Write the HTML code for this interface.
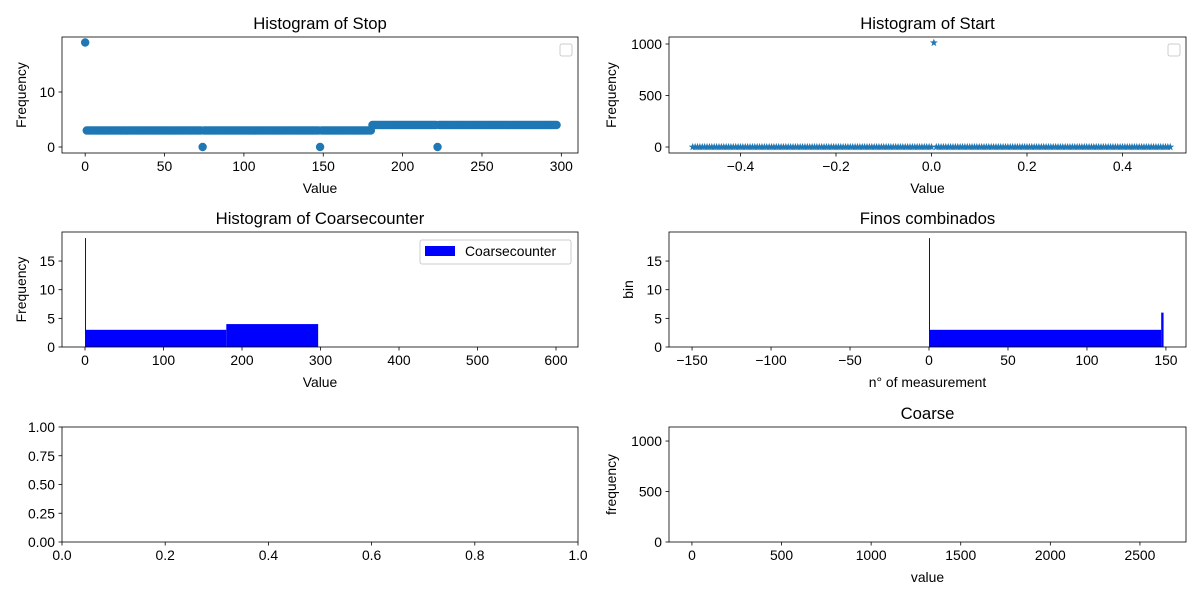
<!DOCTYPE html>
<html><head><meta charset="utf-8"><style>
html,body{margin:0;padding:0;background:#fff;}
svg{display:block;font-family:"Liberation Sans","DejaVu Sans",sans-serif;}
</style></head><body>
<svg id="fig" width="1200" height="600" viewBox="0 0 1200 600" xmlns="http://www.w3.org/2000/svg"></svg>
<script>
// ---- data ----
const stopCounts = [
19,3,3,3,3,3,3,3,3,3,
3,3,3,3,3,3,3,3,3,3,
3,3,3,3,3,3,3,3,3,3,
3,3,3,3,3,3,3,3,3,3,
3,3,3,3,3,3,3,3,3,3,
3,3,3,3,3,3,3,3,3,3,
3,3,3,3,3,3,3,3,3,3,
3,3,3,3,0,3,3,3,3,3,
3,3,3,3,3,3,3,3,3,3,
3,3,3,3,3,3,3,3,3,3,
3,3,3,3,3,3,3,3,3,3,
3,3,3,3,3,3,3,3,3,3,
3,3,3,3,3,3,3,3,3,3,
3,3,3,3,3,3,3,3,3,3,
3,3,3,3,3,3,3,3,0,3,
3,3,3,3,3,3,3,3,3,3,
3,3,3,3,3,3,3,3,3,3,
3,3,3,3,3,3,3,3,3,3,
3,4,4,4,4,4,4,4,4,4,
4,4,4,4,4,4,4,4,4,4,
4,4,4,4,4,4,4,4,4,4,
4,4,4,4,4,4,4,4,4,4,
4,4,0,4,4,4,4,4,4,4,
4,4,4,4,4,4,4,4,4,4,
4,4,4,4,4,4,4,4,4,4,
4,4,4,4,4,4,4,4,4,4,
4,4,4,4,4,4,4,4,4,4,
4,4,4,4,4,4,4,4,4,4,
4,4,4,4,4,4,4,4,4,4,
4,4,4,4,4,4,4,4];
const startCounts = [
0,0,0,0,0,0,0,0,0,0,0,0,0,0,0,0,0,0,0,0,
0,0,0,0,0,0,0,0,0,0,0,0,0,0,0,0,0,0,0,0,
0,0,0,0,0,0,0,0,0,0,0,0,0,0,0,0,0,0,0,0,
0,0,0,0,0,0,0,0,0,0,0,0,0,0,0,0,0,0,0,0,
0,0,0,0,0,0,0,0,0,0,0,0,0,0,0,0,0,0,0,0,
0,1012,
0,0,0,0,0,0,0,0,0,0,0,0,0,0,0,0,0,0,0,0,
0,0,0,0,0,0,0,0,0,0,0,0,0,0,0,0,0,0,0,0,
0,0,0,0,0,0,0,0,0,0,0,0,0,0,0,0,0,0,0,0,
0,0,0,0,0,0,0,0,0,0,0,0,0,0,0,0,0,0,0,0,
0,0,0,0,0,0,0,0,0,0,0,0,0,0,0,0,0,0,0];
const startMin = -0.5, startStep = 0.005;
const coarseEdges = [0,1,180,297];
const coarseCounts = [19,3,4];
const finosEdges = [0,0.6,147,148.5];
const finosCounts = [19,3,6];
const stopXTicks = [0,50,100,150,200,250,300];
const stopYTicks = [0,10];
const startXTicks = [-0.4,-0.2,0.0,0.2,0.4];
const startXLabels = ["\u22120.4","\u22120.2","0.0","0.2","0.4"];
const startYTicks = [0,500,1000];
const coarseXTicks = [0,100,200,300,400,500,600];
const histYTicks = [0,5,10,15];
const finosXTicks = [-150,-100,-50,0,50,100,150];
const finosXLabels = ["\u2212150","\u2212100","\u221250","0","50","100","150"];
const emptyXTicks = [0,0.2,0.4,0.6,0.8,1.0];
const emptyXLabels = ["0.0","0.2","0.4","0.6","0.8","1.0"];
const emptyYTicks = [0,0.25,0.5,0.75,1.0];
const emptyYLabels = ["0.00","0.25","0.50","0.75","1.00"];
const coarseXTicks2 = [0,500,1000,1500,2000,2500];
const coarseYTicks2 = [0,500,1000];

const NS = "http://www.w3.org/2000/svg";
const fig = document.getElementById('fig');
function mk(tag, attrs, parent, text){
  const e = document.createElementNS(NS, tag);
  for (const k in attrs) e.setAttribute(k, attrs[k]);
  if (text !== undefined) e.textContent = text;
  (parent||fig).appendChild(e);
  return e;
}
function makeAxes(o){
  const g = mk('g', {});
  
  
  const sx = v => o.l + (v - o.xmin) / (o.xmax - o.xmin) * o.w;
  const sy = v => o.t + o.h - (v - o.ymin) / (o.ymax - o.ymin) * o.h;
  const marks = mk('g', {}, g);
  
  
  return {g, marks, sx, sy, o};
}
function finishAxes(A){
  const o = A.o, g = A.g;
  const frame = mk('rect', {x:o.l, y:o.t, width:o.w, height:o.h, fill:'none', stroke:'#000', 'stroke-width':0.8}, g);
  
  
  const xa = mk('g', {}, g);
  
  
  o.xt.forEach((v,i) => {
    const x = A.sx(v);
    mk('line', {x1:x, x2:x, y1:o.t+o.h, y2:o.t+o.h+3.5, stroke:'#000', 'stroke-width':0.8}, xa);
    const t = mk('text', {x:x, y:o.t+o.h+18, 'font-size':13.9, 'text-anchor':'middle', fill:'#000'}, xa, o.xl ? o.xl[i] : String(v));
    
    
  });
  const ya = mk('g', {}, g);
  
  
  o.yt.forEach((v,i) => {
    const y = A.sy(v);
    mk('line', {x1:o.l-3.5, x2:o.l, y1:y, y2:y, stroke:'#000', 'stroke-width':0.8}, ya);
    const t = mk('text', {x:o.l-7, y:y+5, 'font-size':13.9, 'text-anchor':'end', fill:'#000'}, ya, o.yl ? o.yl[i] : String(v));
    
    
  });
  if (o.title){
    const t = mk('text', {x:o.l+o.w/2, y:o.t-8, 'font-size':16.7, 'text-anchor':'middle', fill:'#000'}, g, o.title);
    
    
  }
  if (o.xlabel){
    const t = mk('text', {x:o.l+o.w/2, y:o.t+o.h+40, 'font-size':13.9, 'text-anchor':'middle', fill:'#000'}, g, o.xlabel);
    
    
  }
  if (o.ylabel){
    const cx = o.ylx, cy = o.t+o.h/2;
    const t = mk('text', {x:cx, y:cy, 'font-size':13.9, 'text-anchor':'middle', fill:'#000', transform:'rotate(-90 '+cx+' '+cy+')'}, g, o.ylabel);
    
    
  }
}
function emptyLegend(A){
  const o = A.o;
  const r = mk('rect', {x:o.l+o.w-18, y:o.t+7, width:12, height:12, rx:2, fill:'#fff', stroke:'#ccc', 'stroke-width':1}, A.g);
  
  
}
function bars(A, edges, counts, name){
  counts.forEach((c,i) => {
    const x0 = A.sx(edges[i]), x1 = A.sx(edges[i+1]);
    const r = mk('rect', {x:x0, y:A.sy(c), width:Math.max(x1-x0,1), height:A.sy(0)-A.sy(c), fill:'#0000ff'}, A.marks);
    
    
  });
}

// 1. Histogram of Stop
const A1 = makeAxes({name:'stop-histogram', l:62, t:37, w:516, h:116, xmin:-14.6, xmax:310.5, ymin:-1.09, ymax:20, xt:stopXTicks, yt:stopYTicks, title:'Histogram of Stop', xlabel:'Value', ylabel:'Frequency', ylx:26});
stopCounts.forEach((c,i) => {
  const p = mk('circle', {cx:A1.sx(i), cy:A1.sy(c), r:4.2, fill:'#1f77b4'}, A1.marks);
  
  
});
emptyLegend(A1);
finishAxes(A1);

// 2. Histogram of Start
const A2 = makeAxes({name:'start-histogram', l:669, t:37, w:517, h:116, xmin:-0.5497, xmax:0.5330, ymin:-58, ymax:1068, xt:startXTicks, xl:startXLabels, yt:startYTicks, title:'Histogram of Start', xlabel:'Value', ylabel:'Frequency', ylx:616});
function starPath(cx, cy, R){
  const r = R*0.4; let d = '';
  for (let k=0;k<10;k++){
    const a = -Math.PI/2 + k*Math.PI/5, rr = k%2 ? r : R;
    d += (k?'L':'M') + (cx+rr*Math.cos(a)).toFixed(2) + ' ' + (cy+rr*Math.sin(a)).toFixed(2);
  }
  return d + 'Z';
}
startCounts.forEach((c,i) => {
  const p = mk('path', {d:starPath(A2.sx(startMin + i*startStep), A2.sy(c), 4.2), fill:'#1f77b4'}, A2.marks);
  
  
});
emptyLegend(A2);
finishAxes(A2);

// 3. Histogram of Coarsecounter
const A3 = makeAxes({name:'coarsecounter-histogram', l:62, t:232, w:516, h:115, xmin:-29.3, xmax:628, ymin:0, ymax:20.07, xt:coarseXTicks, yt:histYTicks, title:'Histogram of Coarsecounter', xlabel:'Value', ylabel:'Frequency', ylx:26});
bars(A3, coarseEdges, coarseCounts, 'coarsecounter');
(function(){
  const lg = mk('g', {}, A3.g);
  
  
  mk('rect', {x:420, y:240, width:151, height:24, rx:2, fill:'#fff', stroke:'#ccc', 'stroke-width':1}, lg);
  mk('rect', {x:425, y:246, width:30, height:10, fill:'#0000ff'}, lg);
  const t = mk('text', {x:465, y:256, 'font-size':13.9, fill:'#000'}, lg, 'Coarsecounter');
  
  
})();
finishAxes(A3);

// 4. Finos combinados
const A4 = makeAxes({name:'finos-combinados-chart', l:669, t:232, w:517, h:115, xmin:-164.6, xmax:162.7, ymin:0, ymax:20.07, xt:finosXTicks, xl:finosXLabels, yt:histYTicks, title:'Finos combinados', xlabel:'n\u00b0 of measurement', ylabel:'bin', ylx:633});
bars(A4, finosEdges, finosCounts, 'finos');
finishAxes(A4);

// 5. Empty axes
const A5 = makeAxes({name:'empty-axes', l:62, t:427, w:516, h:115, xmin:0, xmax:1, ymin:0, ymax:1, xt:emptyXTicks, xl:emptyXLabels, yt:emptyYTicks, yl:emptyYLabels});
finishAxes(A5);

// 6. Coarse
const A6 = makeAxes({name:'coarse-chart', l:669, t:427, w:517, h:115, xmin:-128, xmax:2757, ymin:0, ymax:1139, xt:coarseXTicks2, yt:coarseYTicks2, title:'Coarse', xlabel:'value', ylabel:'frequency', ylx:616});
finishAxes(A6);
</script>
</body></html>
